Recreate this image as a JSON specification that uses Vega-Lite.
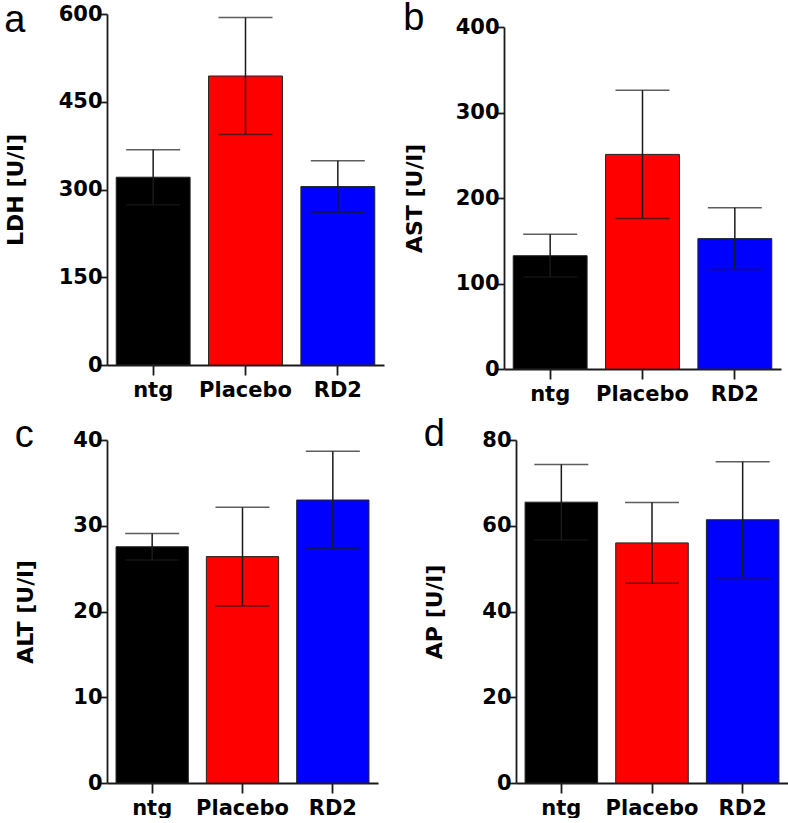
{
  "$schema": "https://vega.github.io/schema/vega-lite/v6.json",
  "padding": {"top": 0, "left": 4, "right": 0, "bottom": 0},
  "background": "white",
  "data": {"values": [
    {"panel": "LDH", "group": "ntg", "mean": 321, "lower": 274, "upper": 368},
    {"panel": "LDH", "group": "Placebo", "mean": 494, "lower": 394, "upper": 594},
    {"panel": "LDH", "group": "RD2", "mean": 305, "lower": 261, "upper": 349},
    {"panel": "AST", "group": "ntg", "mean": 132.5, "lower": 107.5, "upper": 157.5},
    {"panel": "AST", "group": "Placebo", "mean": 251, "lower": 176, "upper": 326},
    {"panel": "AST", "group": "RD2", "mean": 152.5, "lower": 116.5, "upper": 188.5},
    {"panel": "ALT", "group": "ntg", "mean": 27.55, "lower": 26.0, "upper": 29.1},
    {"panel": "ALT", "group": "Placebo", "mean": 26.4, "lower": 20.65, "upper": 32.15},
    {"panel": "ALT", "group": "RD2", "mean": 33.0, "lower": 27.35, "upper": 38.7},
    {"panel": "AP", "group": "ntg", "mean": 65.5, "lower": 56.7, "upper": 74.3},
    {"panel": "AP", "group": "Placebo", "mean": 56.0, "lower": 46.6, "upper": 65.4},
    {"panel": "AP", "group": "RD2", "mean": 61.4, "lower": 47.9, "upper": 74.9}
  ]},
  "vconcat": [
    {
      "hconcat": [
        {
          "title": {"text": "a", "offset": -37},
          "width": 277, "height": 351,
          "transform": [{"filter": "datum.panel == 'LDH'"}],
          "layer": [
            {"mark": {"type": "bar", "stroke": "#222222", "strokeWidth": 1},
             "encoding": {
               "x": {"field": "group", "type": "nominal", "sort": ["ntg", "Placebo", "RD2"], "scale": {"paddingInner": 0.2, "paddingOuter": 0.1}, "axis": {"title": null}},
               "y": {"field": "mean", "type": "quantitative", "scale": {"domain": [0, 600]}, "axis": {"values": [0, 150, 300, 450, 600], "title": "LDH [U/l]", "titlePadding": 31}},
               "color": {"field": "group", "type": "nominal", "scale": {"domain": ["ntg", "Placebo", "RD2"], "range": ["#000000", "#ff0000", "#0000ff"]}, "legend": null}
             }},
            {"mark": {"type": "errorbar", "color": "#1a1a1a", "thickness": 1.5, "ticks": {"size": 54, "thickness": 1.5, "color": "#1a1a1a"}},
             "encoding": {
               "x": {"field": "group", "type": "nominal", "sort": ["ntg", "Placebo", "RD2"]},
               "y": {"field": "lower", "type": "quantitative", "title": "LDH [U/l]"},
               "y2": {"field": "upper"}
             }}
          ]
        },
        {
          "title": {"text": "b", "offset": -24},
          "width": 277, "height": 355,
          "transform": [{"filter": "datum.panel == 'AST'"}],
          "layer": [
            {"mark": {"type": "bar", "stroke": "#222222", "strokeWidth": 1},
             "encoding": {
               "x": {"field": "group", "type": "nominal", "sort": ["ntg", "Placebo", "RD2"], "scale": {"paddingInner": 0.2, "paddingOuter": 0.1}, "axis": {"title": null}},
               "y": {"field": "mean", "type": "quantitative", "scale": {"domain": [0, 400], "range": [355, 13]}, "axis": {"values": [0, 100, 200, 300, 400], "title": "AST [U/l]", "titlePadding": 29}},
               "color": {"field": "group", "type": "nominal", "scale": {"domain": ["ntg", "Placebo", "RD2"], "range": ["#000000", "#ff0000", "#0000ff"]}, "legend": null}
             }},
            {"mark": {"type": "errorbar", "color": "#1a1a1a", "thickness": 1.5, "ticks": {"size": 54, "thickness": 1.5, "color": "#1a1a1a"}},
             "encoding": {
               "x": {"field": "group", "type": "nominal", "sort": ["ntg", "Placebo", "RD2"]},
               "y": {"field": "lower", "type": "quantitative", "title": "AST [U/l]"},
               "y2": {"field": "upper"}
             }}
          ]
        }
      ],
      "spacing": 19
    },
    {
      "hconcat": [
        {
          "title": {"text": "c", "offset": -26},
          "width": 271, "height": 343,
          "transform": [{"filter": "datum.panel == 'ALT'"}],
          "layer": [
            {"mark": {"type": "bar", "stroke": "#222222", "strokeWidth": 1},
             "encoding": {
               "x": {"field": "group", "type": "nominal", "sort": ["ntg", "Placebo", "RD2"], "scale": {"paddingInner": 0.2, "paddingOuter": 0.1}, "axis": {"title": null}},
               "y": {"field": "mean", "type": "quantitative", "scale": {"domain": [0, 40]}, "axis": {"values": [0, 10, 20, 30, 40], "title": "ALT [U/l]", "titlePadding": 35}},
               "color": {"field": "group", "type": "nominal", "scale": {"domain": ["ntg", "Placebo", "RD2"], "range": ["#000000", "#ff0000", "#0000ff"]}, "legend": null}
             }},
            {"mark": {"type": "errorbar", "color": "#1a1a1a", "thickness": 1.5, "ticks": {"size": 54, "thickness": 1.5, "color": "#1a1a1a"}},
             "encoding": {
               "x": {"field": "group", "type": "nominal", "sort": ["ntg", "Placebo", "RD2"]},
               "y": {"field": "lower", "type": "quantitative", "title": "ALT [U/l]"},
               "y2": {"field": "upper"}
             }}
          ]
        },
        {
          "title": {"text": "d", "offset": -25},
          "width": 272, "height": 343,
          "transform": [{"filter": "datum.panel == 'AP'"}],
          "layer": [
            {"mark": {"type": "bar", "stroke": "#222222", "strokeWidth": 1},
             "encoding": {
               "x": {"field": "group", "type": "nominal", "sort": ["ntg", "Placebo", "RD2"], "scale": {"paddingInner": 0.2, "paddingOuter": 0.1}, "axis": {"title": null}},
               "y": {"field": "mean", "type": "quantitative", "scale": {"domain": [0, 80]}, "axis": {"values": [0, 20, 40, 60, 80], "title": "AP [U/l]", "titlePadding": 35}},
               "color": {"field": "group", "type": "nominal", "scale": {"domain": ["ntg", "Placebo", "RD2"], "range": ["#000000", "#ff0000", "#0000ff"]}, "legend": null}
             }},
            {"mark": {"type": "errorbar", "color": "#1a1a1a", "thickness": 1.5, "ticks": {"size": 54, "thickness": 1.5, "color": "#1a1a1a"}},
             "encoding": {
               "x": {"field": "group", "type": "nominal", "sort": ["ntg", "Placebo", "RD2"]},
               "y": {"field": "lower", "type": "quantitative", "title": "AP [U/l]"},
               "y2": {"field": "upper"}
             }}
          ]
        }
      ],
      "spacing": 45
    }
  ],
  "spacing": 12,
  "config": {
    "view": {"stroke": null},
    "title": {"font": "Liberation Sans", "fontSize": 38, "fontWeight": "normal", "anchor": "start", "frame": "bounds", "baseline": "alphabetic", "color": "#000000"},
    "axis": {
      "grid": false,
      "domainColor": "#1a1a1a", "domainWidth": 1.8,
      "tickColor": "#1a1a1a", "tickWidth": 1.8,
      "labelFont": "DejaVu Sans", "labelFontWeight": "bold", "labelFontSize": 21, "labelColor": "#000000",
      "titleFont": "DejaVu Sans", "titleFontWeight": "bold", "titleFontSize": 22, "titleColor": "#000000"
    },
    "axisX": {"tickSize": 10, "labelPadding": 4, "labelAngle": 0},
    "axisY": {"tickSize": 8, "labelPadding": -3}
  }
}
